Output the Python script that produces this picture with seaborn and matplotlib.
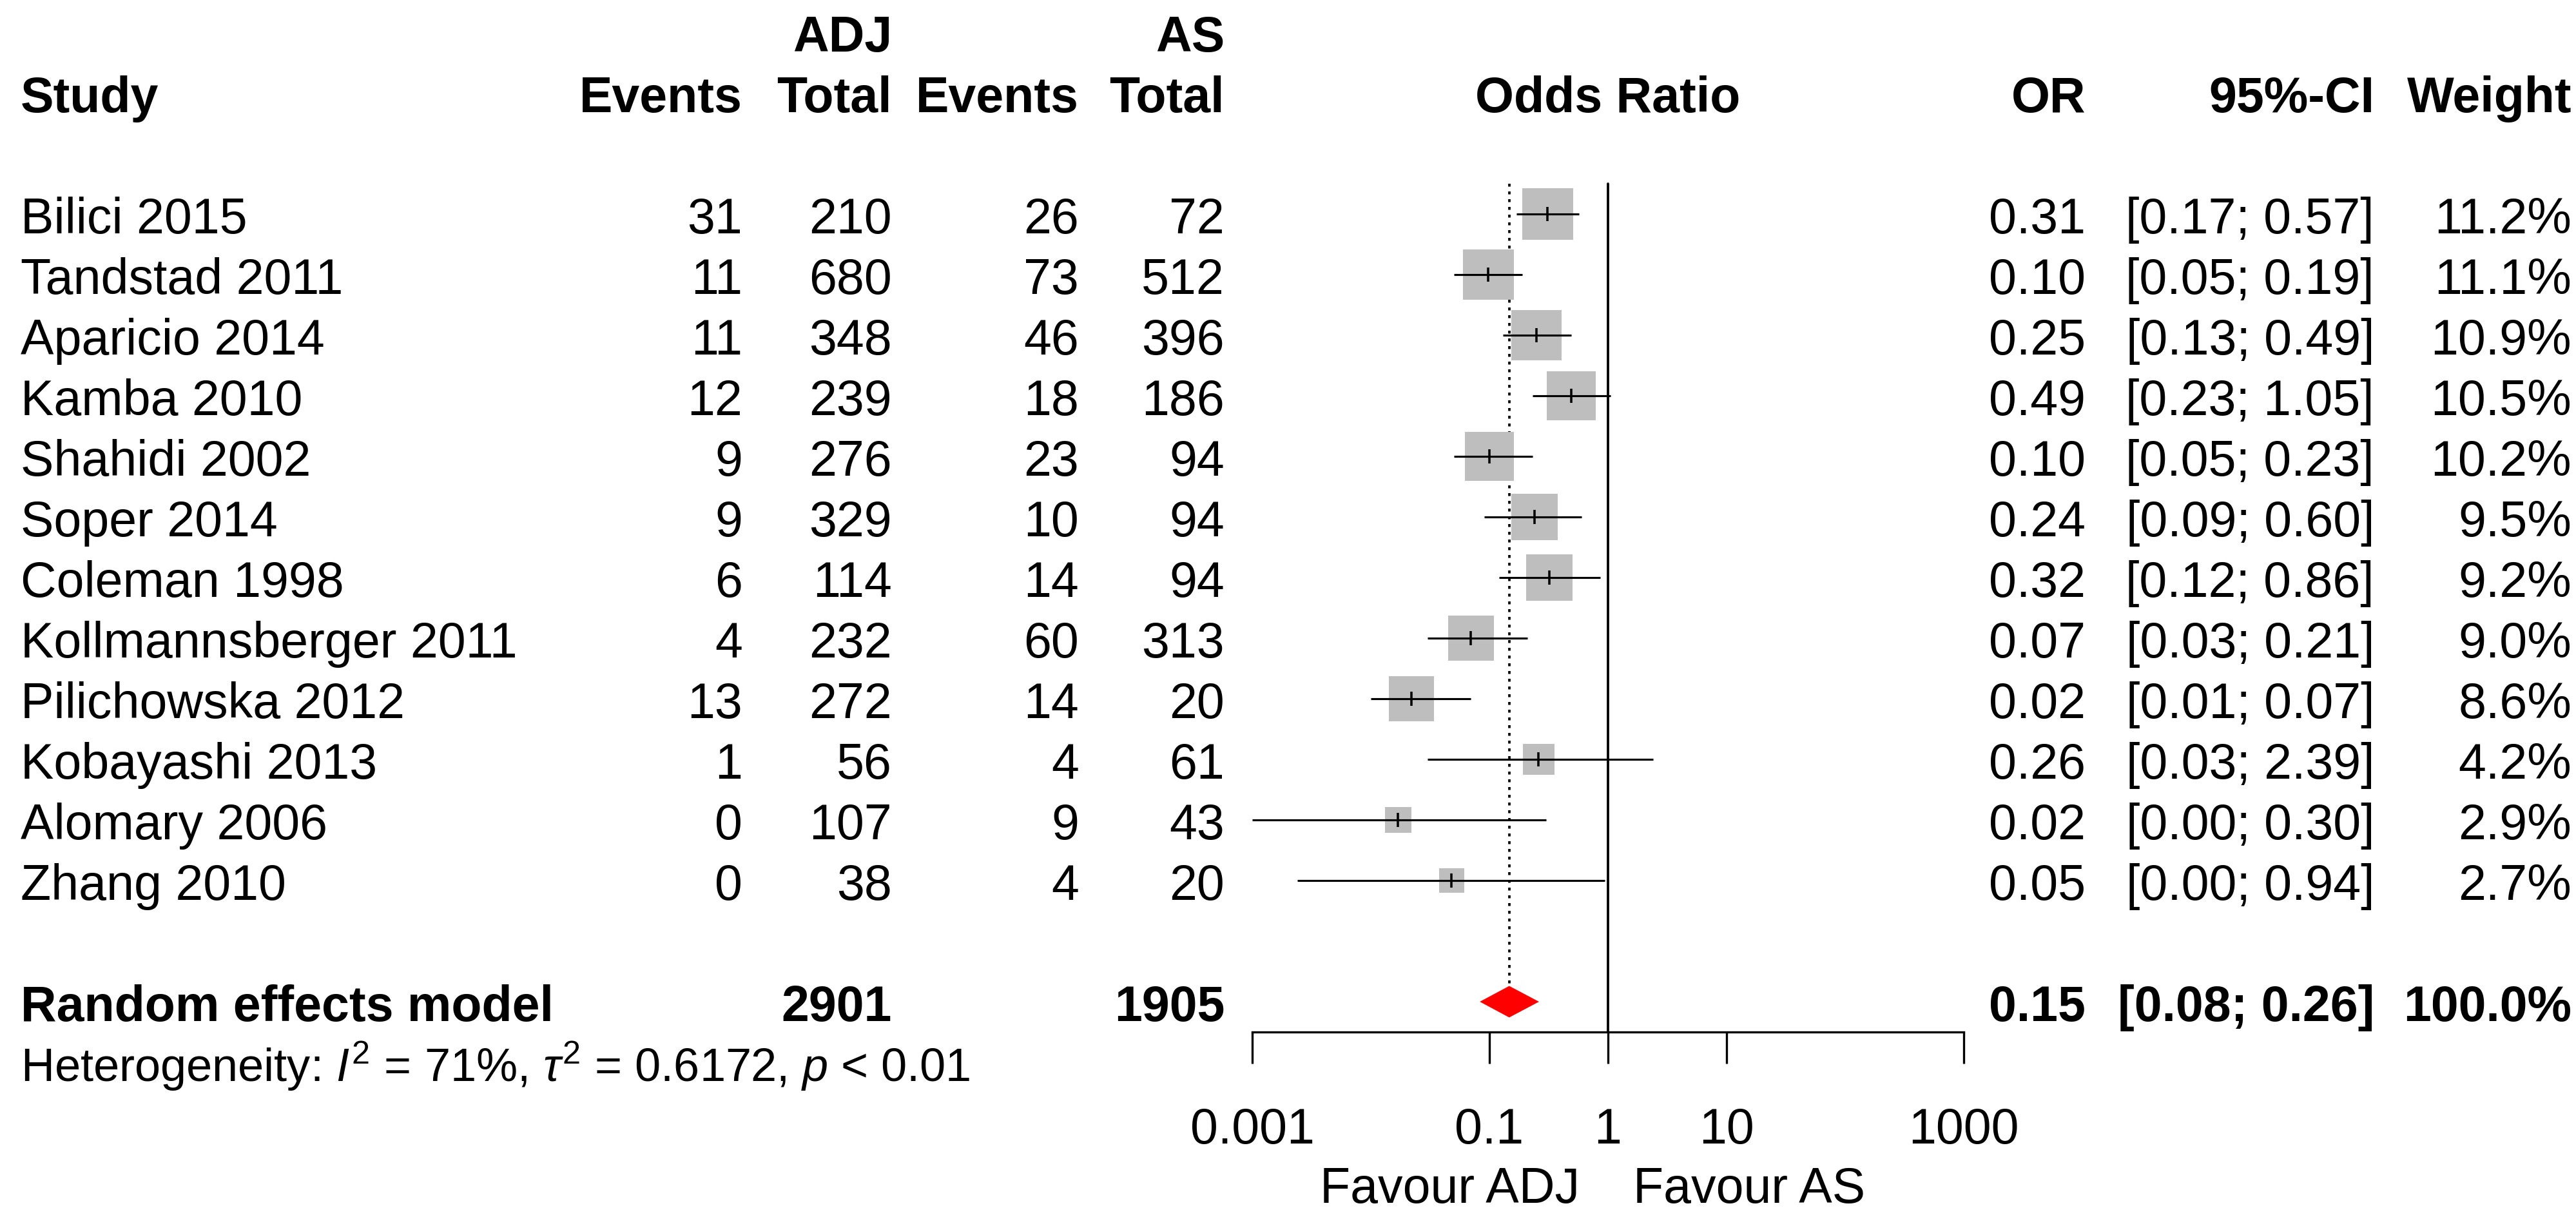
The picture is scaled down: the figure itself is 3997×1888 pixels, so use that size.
import numpy as np
import pandas as pd
import matplotlib
matplotlib.use('Agg')
import matplotlib.pyplot as plt
import matplotlib.transforms as mtrans
from matplotlib.ticker import NullLocator
import seaborn as sns

sns.set_theme(style='white')
plt.rcParams['font.family'] = ['Liberation Sans', 'DejaVu Sans']
plt.rcParams['text.color'] = 'black'
plt.rcParams['mathtext.fontset'] = 'custom'
plt.rcParams['mathtext.rm'] = 'Liberation Sans'
plt.rcParams['mathtext.it'] = 'Liberation Sans:italic'
plt.rcParams['mathtext.bf'] = 'Liberation Sans:bold'

# study data
studies = ['Bilici 2015', 'Tandstad 2011', 'Aparicio 2014', 'Kamba 2010',
           'Shahidi 2002', 'Soper 2014', 'Coleman 1998', 'Kollmannsberger 2011',
           'Pilichowska 2012', 'Kobayashi 2013', 'Alomary 2006', 'Zhang 2010']
adj_events = [31, 11, 11, 12, 9, 9, 6, 4, 13, 1, 0, 0]
adj_total = [210, 680, 348, 239, 276, 329, 114, 232, 272, 56, 107, 38]
as_events = [26, 73, 46, 18, 23, 10, 14, 60, 14, 4, 9, 4]
as_total = [72, 512, 396, 186, 94, 94, 94, 313, 20, 61, 43, 20]
odds = [0.31, 0.098, 0.25, 0.49, 0.10, 0.24, 0.32, 0.07, 0.022, 0.26, 0.017, 0.048]
ci_low = [0.17, 0.05, 0.13, 0.23, 0.05, 0.09, 0.12, 0.03, 0.01, 0.03, 0.0009, 0.0024]
ci_high = [0.57, 0.19, 0.49, 1.05, 0.23, 0.60, 0.86, 0.21, 0.07, 2.39, 0.30, 0.94]
weight = [11.2, 11.1, 10.9, 10.5, 10.2, 9.5, 9.2, 9.0, 8.6, 4.2, 2.9, 2.7]

# random effects summary
re_label = 'Random effects model'
re_adj_total = 2901
re_as_total = 1905
re_or = 0.147
re_low = 0.083
re_high = 0.262
re_weight = 100.0
het_text = r'Heterogeneity: $I^2$ = 71%, $\tau^2$ = 0.6172, $p$ < 0.01'

x_ticks = [0.001, 0.1, 1, 10, 1000]
x_ticklabels = ['0.001', '0.1', '1', '10', '1000']
label_left = 'Favour ADJ'
label_right = 'Favour AS'

df = pd.DataFrame({'study': studies, 'odds': odds, 'lo': ci_low,
                   'hi': ci_high, 'weight': weight})
df['row'] = np.arange(len(df))
re_row = len(df) + 1

W, H, DPI = 3997, 1888, 300
FS = 18.5
ROW0, ROWH = 332, 94  # pixel centre of first row, row height


def px_to_row(p):
    return (p - ROW0) / ROWH


fig = plt.figure(figsize=(W / DPI, H / DPI), dpi=DPI)
fig.patch.set_facecolor('white')
ax_left, ax_right = 1943 / W, 3047 / W
ax_bottom = (H - 1601) / H
ax = fig.add_axes([ax_left, ax_bottom, ax_right - ax_left, 1 - ax_bottom])
ax.patch.set_visible(False)

# squares sized by weight
sns.scatterplot(data=df, x='odds', y='row', size='weight', sizes=(0, 359.5),
                size_norm=(0, 11.2), marker='s', color='#bebebe', linewidth=0,
                legend=False, ax=ax, zorder=2)
# confidence intervals and point marks
ax.hlines(df['row'], np.clip(df['lo'], 0.001, 1000), df['hi'],
          color='black', lw=0.75, zorder=3)
ax.scatter(df['odds'], df['row'], marker='|', s=5.3 ** 2, linewidths=0.85,
           color='black', zorder=4)

# reference lines
ax.plot([1, 1], [-0.5, 13.5], color='black', lw=0.9, zorder=1)
ax.plot([re_or, re_or], [-0.5, re_row - 0.27], color='black', lw=0.9,
        linestyle=(0, (1.2, 2.0)), zorder=1)

# summary diamond
ax.fill([re_low, re_or, re_high, re_or],
        [re_row, re_row - 0.26, re_row, re_row + 0.26],
        color='#ff0000', lw=0, zorder=3)

ax.set_xscale('log')
ax.set_xlim(0.001, 1000)
ax.set_ylim(13.5, px_to_row(0))
ax.set_xticks(x_ticks)
ax.set_xticklabels(x_ticklabels)
ax.xaxis.set_minor_locator(NullLocator())
ax.set_yticks([])
ax.set_xlabel('')
ax.set_ylabel('')
for side in ['top', 'left', 'right']:
    ax.spines[side].set_visible(False)
ax.spines['bottom'].set_linewidth(0.8)
ax.spines['bottom'].set_color('black')
ax.tick_params(axis='x', which='major', bottom=True, direction='out',
               length=11.8, width=0.8, pad=16, labelsize=FS, colors='black')

blend = mtrans.blended_transform_factory(fig.transFigure, ax.transData)
BASE = 0.32  # baseline offset below row centre


def put(xpx, row, s, ha='right', bold=False, size=FS):
    ax.text(xpx / W, row + BASE, s, transform=blend, ha=ha, va='baseline',
            fontsize=size, fontweight='bold' if bold else 'normal',
            color='black')


col_study, col_ae, col_at, col_se, col_st = 32, 1152, 1384, 1674, 1900
col_or, col_ci, col_w = 3236, 3684, 3990

# headers
put(col_at, -3, 'ADJ', bold=True)
put(col_st, -3, 'AS', bold=True)
put(col_study, -2, 'Study', ha='left', bold=True)
put(col_ae, -2, 'Events', bold=True)
put(col_at, -2, 'Total', bold=True)
put(col_se, -2, 'Events', bold=True)
put(col_st, -2, 'Total', bold=True)
ax.text(1, -2 + BASE, 'Odds Ratio', ha='center', va='baseline', fontsize=FS,
        fontweight='bold', color='black')
put(col_or, -2, 'OR', bold=True)
put(col_ci, -2, '95%-CI', bold=True)
put(col_w, -2, 'Weight', bold=True)

# study rows
for i in range(len(studies)):
    put(col_study, i, studies[i], ha='left')
    put(col_ae, i, str(adj_events[i]))
    put(col_at, i, str(adj_total[i]))
    put(col_se, i, str(as_events[i]))
    put(col_st, i, str(as_total[i]))
    put(col_or, i, f'{odds[i]:.2f}')
    put(col_ci, i, f'[{ci_low[i]:.2f}; {ci_high[i]:.2f}]')
    put(col_w, i, f'{weight[i]:.1f}%')

# summary row
put(col_study, re_row, re_label, ha='left', bold=True)
put(col_at, re_row, str(re_adj_total), bold=True)
put(col_st, re_row, str(re_as_total), bold=True)
put(col_or, re_row, f'{re_or:.2f}', bold=True)
put(col_ci, re_row, f'[{re_low:.2f}; {re_high:.2f}]', bold=True)
put(col_w, re_row, f'{re_weight:.1f}%', bold=True)
put(col_study, re_row + 1, het_text, ha='left', size=17.3)

# favour labels
put(2451, 16, label_left)
put(2534, 16, label_right, ha='left')

fig.savefig('out.png', dpi=DPI, facecolor='white')
